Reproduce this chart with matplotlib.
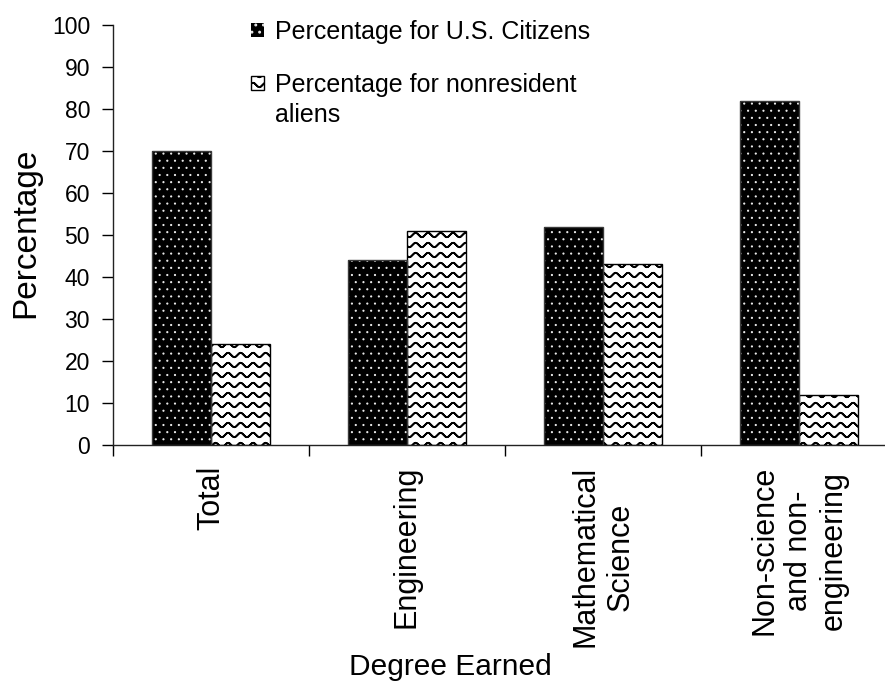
import warnings
import numpy as np
import matplotlib
matplotlib.use("Agg")
import matplotlib.pyplot as plt
from matplotlib import hatch as mhatch
from matplotlib.path import Path

warnings.filterwarnings("ignore")

categories = ["Total", "Engineering", "Mathematical\nScience",
              "Non-science\nand non-\nengineering"]
us_citizens = [70, 44, 52, 82]
nonresident = [24, 51, 43, 12]
series_labels = ["Percentage for U.S. Citizens", "Percentage for nonresident"]
y_ticks = [0, 10, 20, 30, 40, 50, 60, 70, 80, 90, 100]


class WaveHatch(mhatch.HatchPatternBase):
    """Wavy horizontal lines, selected with the '~' hatch character."""

    def __init__(self, hatch, density):
        n = hatch.count("~")
        self.rows = 10 * n
        self.waves = 8
        self.samples = self.waves * 8 + 1
        # each row is traced forward and back so the fill adds no area
        self.num_vertices = self.rows * self.samples * 2

    def set_vertices_and_codes(self, vertices, codes):
        t = np.linspace(0.0, 1.0, self.samples)
        k = 0
        for i in range(self.rows):
            y0 = (i + 0.5) / self.rows
            y = y0 + 0.022 * np.sin(2 * np.pi * self.waves * t)
            xs = np.concatenate([t, t[::-1]])
            ys = np.concatenate([y, y[::-1]])
            m = len(xs)
            vertices[k:k + m, 0] = xs
            vertices[k:k + m, 1] = ys
            codes[k] = Path.MOVETO
            codes[k + 1:k + m] = Path.LINETO
            k += m


class DotHatch(mhatch.HatchPatternBase):
    """Staggered dot grid, selected with the ':' hatch character."""

    def __init__(self, hatch, density):
        n = hatch.count(":")
        self.cols = 13 * n
        self.rows = 14 * n
        circ = Path.unit_circle()
        self.cv = circ.vertices
        self.cc = circ.codes
        self.num_vertices = len(self.cv) * self.cols * self.rows

    def set_vertices_and_codes(self, vertices, codes):
        r = 0.006
        m = len(self.cv)
        k = 0
        for i in range(self.rows):
            y = (i + 0.5) / self.rows
            shift = 0.5 if i % 2 else 0.0
            for j in range(self.cols):
                x = (j + 0.25 + shift) / self.cols
                vertices[k:k + m] = self.cv * r + (x, y)
                codes[k:k + m] = self.cc
                k += m


mhatch._hatch_types.extend([WaveHatch, DotHatch])

plt.rcParams["font.family"] = ["Liberation Sans", "DejaVu Sans"]

W, H = 885, 681
fig = plt.figure(figsize=(W / 100, H / 100), dpi=100)
ax = fig.add_axes([113 / W, 236 / H, 784 / W, 420 / H])

x = np.arange(len(categories))
bw = 0.3

plt.rcParams["hatch.linewidth"] = 0.7
us_bars = ax.bar(x - bw / 2, us_citizens, bw, facecolor="black",
                 edgecolor="#e8e8e8", linewidth=0, hatch=":", zorder=2)
ax.bar(x - bw / 2, us_citizens, bw, fill=False, edgecolor="#3a3a3a",
       linewidth=1.0, zorder=3)

plt.rcParams["hatch.linewidth"] = 1.25
nr_bars = ax.bar(x + bw / 2, nonresident, bw, facecolor="white",
                 edgecolor="black", linewidth=1.0, hatch="~", zorder=2)

ax.set_xlim(-0.5, len(categories) - 0.5)
ax.set_ylim(0, 100)
ax.set_yticks(y_ticks)
ax.tick_params(axis="y", labelsize=16.5, length=8, width=1, pad=8.5,
               direction="out")

ax.set_xticks(x)
ax.set_xticklabels(categories, rotation=90, fontsize=22, va="top",
                   ha="center")
ax.tick_params(axis="x", which="major", length=0, pad=15)
ax.set_xticks(np.arange(len(categories)) - 0.5, minor=True)
ax.tick_params(axis="x", which="minor", length=8, width=1, direction="out")

for side in ("top", "right"):
    ax.spines[side].set_visible(False)
for side in ("left", "bottom"):
    ax.spines[side].set_linewidth(1.0)
    ax.spines[side].set_color("#222222")

ax.set_ylabel("Percentage", fontsize=24)
ax.yaxis.set_label_coords(-0.092, 0.505)
ax.set_xlabel("Degree Earned", fontsize=21.5, va="top")
ax.xaxis.set_label_coords(0.43, -0.495)

leg = fig.legend([us_bars, nr_bars], series_labels, loc="upper left",
                 bbox_to_anchor=(251 / W, (H - 20) / H), frameon=False,
                 fontsize=18, handlelength=0.5, handleheight=0.5,
                 handletextpad=0.45, labelspacing=1.15, borderpad=0,
                 borderaxespad=0)

fig.canvas.draw()
bb = leg.get_texts()[1].get_window_extent()
fig.text(bb.x0 / W, (bb.y0 - 6) / H, "aliens", fontsize=18, va="top",
         ha="left")

fig.savefig("out.png", dpi=100)
